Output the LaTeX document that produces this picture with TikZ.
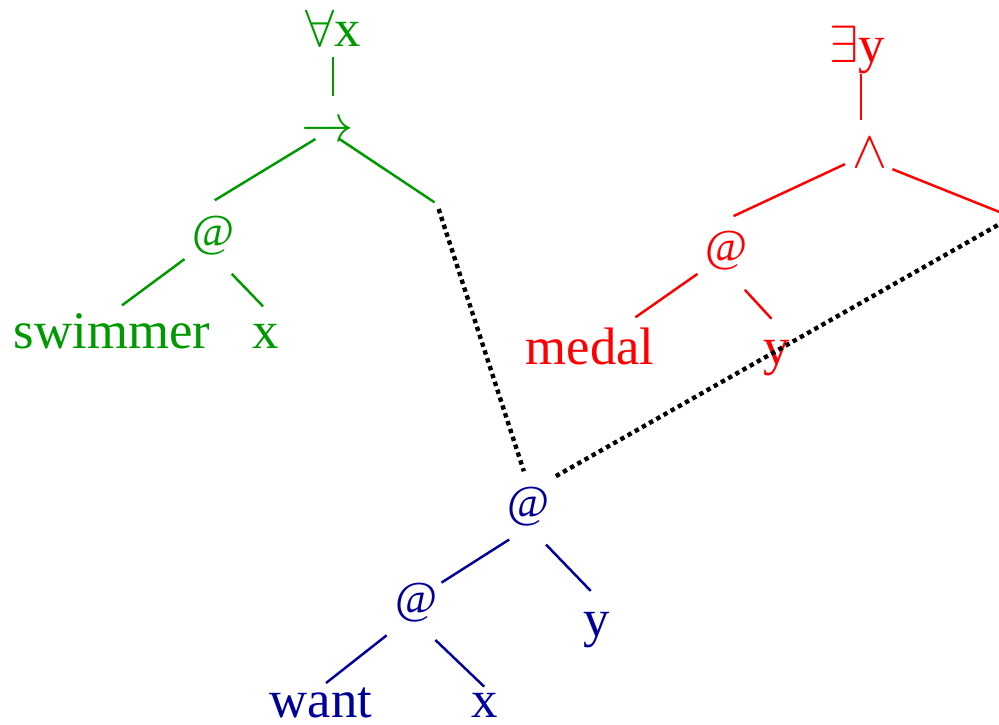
\documentclass[tikz,border=0pt]{standalone}
\usepackage{fontspec}
\setmainfont{Liberation Serif}
\usepackage{xcolor}
\usepackage{tikz}
\definecolor{treegreen}{rgb}{0,0.6,0}
\definecolor{treered}{rgb}{1,0,0}
\definecolor{treeblue}{rgb}{0,0,0.6}
\newcommand{\bigsym}[1]{\scalebox{1.2}{$#1$}}
\tikzset{
    lbl/.style={font=\fontsize{30}{36}\selectfont, inner sep=0pt, anchor=base},
    atnode/.style={font=\fontsize{26}{30}\selectfont, inner sep=0pt, anchor=center, minimum width=27.5pt, minimum height=20.6pt},
    gnode/.style={lbl, text=treegreen},
    rnode/.style={lbl, text=treered},
    bnode/.style={lbl, text=treeblue},
    gline/.style={draw=treegreen, line width=1.4pt},
    rline/.style={draw=treered, line width=1.4pt},
    bline/.style={draw=treeblue, line width=1.4pt},
    link/.style={draw=black, line width=2.5pt, dash pattern=on 2.5pt off 2.2pt}
}

\begin{document}
\begin{tikzpicture}[x=0.02cm, y=-0.02cm]
    \useasboundingbox (0,0) rectangle (999,724);

    % Green tree
    \node (fa) [gnode] at (333,46) {\bigsym{\forall}x};
    \node (imp) [gnode] at (328,141) {\bigsym{\rightarrow}};
    \node (gat) [gnode, atnode] at (214,235.5) {@};
    \node (swim) [gnode] at (112,348) {swimmer};
    \node (gx) [gnode] at (266,348) {x};
    \coordinate (gend) at (437,204);

    % Red tree
    \node (ey) [rnode] at (857,62) {\bigsym{\exists}y};
    \node (and) [rnode] at (870,167) {\bigsym{\wedge}};
    \node (rat) [rnode, atnode] at (727,250.5) {@};
    \node (medal) [rnode] at (590,364) {medal};
    \node (ry) [rnode] at (777,364) {y};
    \coordinate (rend) at (1012,217);

    % Blue tree
    \node (bat) [bnode, atnode] at (529,507) {@};
    \node (lat) [bnode, atnode] at (417,602.5) {@};
    \node (by) [bnode] at (597,636) {y};
    \node (want) [bnode] at (321,717) {want};
    \node (bx) [bnode] at (485,717) {x};

    % Edges
    \draw [gline, shorten <=6.2pt, shorten >=14.7pt] (fa.south) -- (fa.south |- imp.north);
    \draw [gline, shorten <=8.4pt, shorten >=16.8pt] (imp.center) -- (gat.north west);
    \draw [gline, shorten <=7.5pt, shorten >=1.7pt] (imp.center) -- (gend);
    \draw [gline, shorten <=3.5pt, shorten >=7.1pt] (gat.south west) -- (swim.north);
    \draw [gline, shorten <=14.6pt, shorten >=13.5pt] (gat.south) -- (gx.north east);

    \draw [rline, shorten >=10.2pt] ([xshift=2.3pt]ey.south) -- ([xshift=2.3pt]ey.south |- and.north);
    \draw [rline, shorten <=15.7pt, shorten >=19.5pt] (and.center) -- (rat.north west);
    \draw [rline, shorten <=2.8pt, shorten >=3pt] (and.south east) -- (rend);
    \draw [rline, shorten <=3.5pt, shorten >=9.7pt] (rat.south west) -- (medal.31);
    \draw [rline, shorten <=15pt, shorten >=16pt] (rat.south) -- (ry.north east);

    \draw [bline, shorten <=13.4pt] (bat.south) -- (lat.north east);
    \draw [bline, shorten <=14pt, shorten >=16.3pt] (bat.south) -- (by.north east);
    \draw [bline, shorten <=11.9pt, shorten >=3.7pt] (lat.235) -- (want.north);
    \draw [bline, shorten <=14.5pt, shorten >=4.8pt] (lat.south) -- (bx.67);

    % Links
    \draw [link, shorten <=3pt, shorten >=9.5pt] (gend) -- (bat.north);
    \draw [link, shorten >=12.4pt] (rend) -- (bat.69);
\end{tikzpicture}
\end{document}
